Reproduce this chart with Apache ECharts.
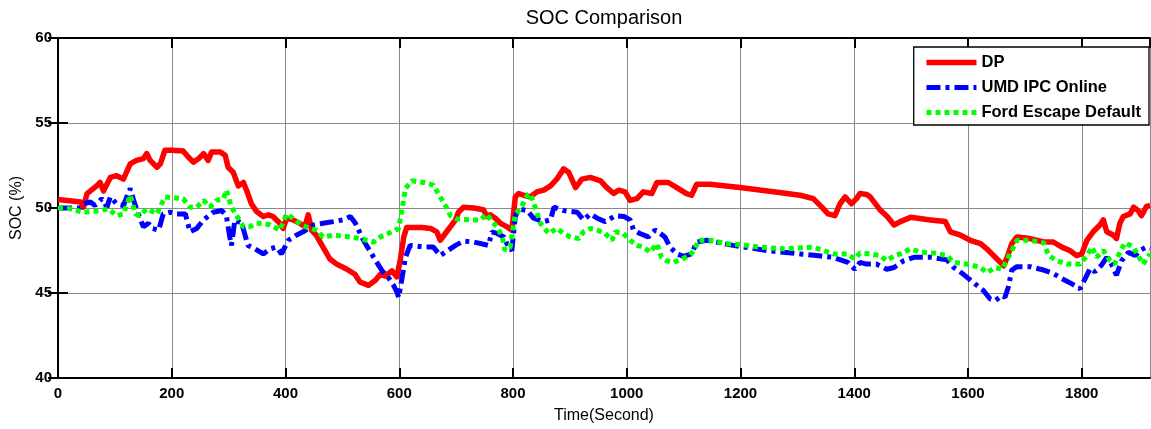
<!DOCTYPE html>
<html>
<head>
<meta charset="utf-8">
<title>SOC Comparison</title>
<script src="https://cdn.jsdelivr.net/npm/echarts@6/dist/echarts.min.js"></script>
<style>
  html, body { margin: 0; padding: 0; background: #fff; }
  #myChart { width: 1151px; height: 429px; }
</style>
</head>
<body>
<div id="myChart"></div>
<script>
// x axis ticks (seconds) and y axis ticks (%)
const xTicks = [0, 200, 400, 600, 800, 1000, 1200, 1400, 1600, 1800];
const yTicks = [40, 45, 50, 55, 60];
const seriesNames = ["DP", "UMD IPC Online", "Ford Escape Default"];

// DP
const dpTime = [0, 40, 45, 51, 68, 74, 80, 92, 103, 115, 127, 138, 150, 156, 162, 174, 180, 188, 200, 220,
  229, 238, 247, 256, 264, 270, 285, 294, 299, 308, 317, 326, 332, 340, 349, 361, 370, 378, 390, 396,
  402, 413, 425, 434, 440, 446, 454, 466, 478, 490, 508, 522, 531, 546, 549, 558, 567, 575, 587, 596,
  602, 608, 613, 640, 655, 666, 672, 681, 690, 699, 704, 713, 731, 748, 754, 760, 769, 778, 789, 798,
  804, 810, 819, 830, 842, 854, 866, 877, 889, 898, 910, 921, 936, 954, 965, 977, 986, 997, 1006, 1018,
  1029, 1044, 1053, 1073, 1088, 1105, 1114, 1123, 1146, 1199, 1258, 1305, 1328, 1343, 1354, 1366, 1375, 1384, 1395, 1404,
  1410, 1422, 1428, 1445, 1458, 1470, 1481, 1499, 1534, 1560, 1569, 1587, 1604, 1622, 1633, 1645, 1654, 1663, 1671, 1677,
  1686, 1709, 1733, 1750, 1765, 1779, 1791, 1800, 1809, 1820, 1832, 1838, 1844, 1856, 1861, 1867, 1873, 1885, 1891, 1899,
  1905, 1914, 1920];
const dpSoc = [50.5, 50.35, 50.05, 50.85, 51.3, 51.5, 51.0, 51.8, 51.9, 51.7, 52.6, 52.8, 52.9, 53.2, 52.8, 52.4, 52.6, 53.4, 53.4, 53.35,
  53.0, 52.7, 52.9, 53.2, 52.8, 53.3, 53.3, 53.1, 52.4, 52.1, 51.3, 51.5, 51.0, 50.25, 49.8, 49.5, 49.6, 49.5, 49.1, 48.8,
  49.4, 49.3, 49.1, 48.9, 49.6, 48.7, 48.4, 47.7, 47.0, 46.7, 46.4, 46.1, 45.65, 45.45, 45.4, 45.75, 46.1, 46.0, 46.3, 45.95,
  47.0, 48.3, 48.85, 48.85, 48.8, 48.6, 48.1, 48.5, 48.9, 49.3, 49.75, 50.05, 50.0, 49.9, 49.5, 49.6, 49.4, 49.1, 48.9, 48.7,
  50.65, 50.85, 50.75, 50.65, 50.95, 51.05, 51.3, 51.7, 52.3, 52.1, 51.2, 51.7, 51.8, 51.6, 51.2, 50.85, 51.05, 50.95, 50.45, 50.55,
  50.95, 50.85, 51.5, 51.5, 51.2, 50.85, 50.75, 51.4, 51.4, 51.2, 50.95, 50.75, 50.55, 50.05, 49.65, 49.55, 50.25, 50.65, 50.25, 50.55,
  50.85, 50.8, 50.65, 49.9, 49.5, 49.0, 49.2, 49.45, 49.3, 49.2, 48.6, 48.4, 48.1, 47.9, 47.6, 47.2, 46.9, 46.6, 47.3, 47.9,
  48.3, 48.2, 48.0, 48.0, 47.7, 47.5, 47.2, 47.3, 48.1, 48.6, 49.0, 49.3, 48.6, 48.4, 48.2, 49.1, 49.5, 49.65, 50.05, 49.85,
  49.55, 50.1, 50.15];

// UMD IPC Online
const umdTime = [0, 39, 45, 57, 65, 77, 86, 92, 103, 115, 127, 133, 141, 150, 159, 165, 177, 185, 197, 209,
  224, 232, 244, 256, 273, 288, 296, 302, 305, 311, 323, 334, 346, 361, 373, 384, 393, 405, 419, 431,
  449, 466, 484, 501, 514, 523, 537, 555, 570, 581, 590, 596, 599, 605, 611, 619, 643, 660, 672, 681,
  699, 713, 731, 757, 763, 772, 784, 792, 798, 804, 810, 825, 836, 854, 866, 872, 889, 913, 924, 936,
  948, 962, 980, 995, 1006, 1012, 1023, 1038, 1050, 1059, 1067, 1076, 1088, 1100, 1114, 1123, 1141, 1187, 1246, 1305,
  1334, 1363, 1389, 1401, 1410, 1422, 1439, 1457, 1470, 1487, 1505, 1534, 1563, 1575, 1592, 1610, 1627, 1639, 1648, 1660,
  1665, 1671, 1677, 1686, 1709, 1733, 1750, 1765, 1782, 1797, 1806, 1815, 1823, 1835, 1844, 1853, 1861, 1870, 1882, 1894,
  1902, 1914, 1920];
const umdSoc = [50.0, 50.0, 50.25, 50.35, 50.15, 50.55, 50.05, 50.65, 50.25, 50.15, 51.15, 50.45, 49.65, 48.9, 49.1, 48.8, 48.7, 49.65, 49.75, 49.65,
  49.65, 48.6, 48.8, 49.3, 49.75, 49.85, 49.55, 48.3, 47.8, 49.3, 49.1, 47.8, 47.6, 47.3, 47.6, 47.7, 47.3, 48.1, 48.4, 48.6,
  49.0, 49.1, 49.2, 49.3, 49.5, 49.1, 48.1, 47.1, 46.3, 45.9, 45.45, 45.05, 44.75, 45.9, 47.1, 47.8, 47.7, 47.7, 47.2, 47.4,
  47.8, 48.05, 48.0, 47.8, 48.6, 48.5, 48.3, 47.7, 47.5, 49.5, 49.95, 49.85, 49.4, 49.2, 49.3, 50.05, 49.85, 49.75, 49.3, 49.65,
  49.4, 49.2, 49.55, 49.5, 49.3, 48.7, 48.5, 48.3, 48.7, 48.5, 48.3, 47.7, 47.3, 47.15, 47.3, 48.0, 48.1, 47.8, 47.5, 47.3,
  47.2, 47.1, 46.8, 46.4, 46.8, 46.7, 46.7, 46.4, 46.5, 46.9, 47.1, 47.1, 46.95, 46.5, 46.1, 45.6, 45.15, 44.65, 44.55, 44.85,
  44.75, 45.35, 46.35, 46.55, 46.55, 46.35, 46.15, 45.85, 45.55, 45.25, 45.85, 46.45, 46.25, 46.65, 47.1, 46.65, 46.05, 46.9, 47.4, 47.2,
  47.5, 47.7, 47.6];

// Ford Escape Default
const fordTime = [0, 22, 45, 74, 89, 103, 115, 127, 136, 144, 156, 174, 188, 203, 220, 232, 244, 256, 267, 279,
  291, 296, 305, 314, 326, 337, 349, 361, 373, 390, 402, 413, 428, 443, 454, 466, 484, 501, 513, 531,
  543, 555, 567, 587, 599, 605, 611, 622, 643, 660, 672, 681, 690, 701, 725, 743, 754, 763, 772, 781,
  786, 795, 804, 813, 825, 830, 839, 848, 863, 877, 889, 901, 916, 924, 936, 948, 962, 974, 980, 994,
  1006, 1018, 1029, 1041, 1053, 1061, 1070, 1082, 1097, 1111, 1120, 1126, 1146, 1176, 1199, 1234, 1275, 1328, 1363, 1387,
  1401, 1410, 1428, 1445, 1457, 1471, 1481, 1499, 1516, 1540, 1563, 1575, 1598, 1622, 1633, 1648, 1660, 1668, 1677, 1686,
  1709, 1733, 1742, 1756, 1774, 1797, 1809, 1818, 1826, 1838, 1850, 1858, 1867, 1876, 1891, 1899, 1908, 1920];
const fordSoc = [50.0, 49.95, 49.75, 49.85, 49.95, 49.55, 49.65, 50.75, 49.65, 49.55, 49.95, 49.65, 50.65, 50.6, 50.55, 50.05, 50.05, 50.45, 50.05, 50.45,
  50.55, 51.05, 50.05, 49.55, 48.9, 48.9, 49.1, 49.1, 49.0, 48.7, 49.65, 49.4, 49.0, 48.8, 48.7, 48.3, 48.4, 48.35, 48.3, 48.2,
  48.1, 48.0, 48.3, 48.6, 48.8, 49.95, 51.15, 51.6, 51.5, 51.35, 50.65, 50.15, 49.55, 49.35, 49.3, 49.3, 49.65, 49.2, 48.9, 48.3,
  47.5, 47.7, 49.65, 49.95, 50.75, 50.85, 50.05, 49.1, 48.5, 48.8, 48.5, 48.3, 48.2, 48.6, 48.8, 48.7, 48.5, 48.1, 48.6, 48.5,
  48.1, 47.8, 47.7, 47.4, 47.9, 47.1, 46.9, 46.8, 47.0, 47.2, 47.6, 48.1, 48.1, 47.9, 47.85, 47.7, 47.6, 47.7, 47.3, 47.3,
  47.0, 47.35, 47.3, 47.2, 46.9, 47.2, 47.3, 47.6, 47.4, 47.35, 47.2, 46.8, 46.7, 46.5, 46.2, 46.5, 46.4, 46.9, 47.5, 48.1,
  48.1, 47.95, 47.2, 46.9, 46.7, 46.7, 47.2, 47.7, 47.1, 47.5, 46.9, 46.7, 47.4, 47.95, 47.7, 47.2, 46.7, 47.3];

function zip(ts, vs) {
  return ts.map((t, i) => [t, vs[i]]);
}

let myChart = echarts.init(document.getElementById("myChart"));
const font = "'Liberation Sans', Arial, Helvetica, sans-serif";
const xMax = 1920;

// line styles, shared by series and legend
const dpLine = { color: "#ff0000", width: 5.5, type: "solid", join: "round" };
const umdLine = { color: "#0000ff", width: 5, type: [14, 5, 4, 5], cap: "butt" };
const fordLine = { color: "#00ff00", width: 5, type: [5, 4], cap: "butt" };

// matlab style: inside ticks, thick frame
const frameLine = { show: true, lineStyle: { color: "#000", width: 2 } };
const inTick = { show: true, inside: true, length: 10, lineStyle: { color: "#000", width: 2 } };
const gridLine = { show: true, lineStyle: { color: "#8a8a8a", width: 1, type: "solid" } };

let option = {
  backgroundColor: "#fff",
  animation: false,
  title: {
    text: "SOC Comparison",
    left: 599,
    top: 3,
    textAlign: "center",
    textStyle: { color: "#000", fontSize: 20, fontWeight: "normal", fontFamily: font }
  },
  legend: {
    data: [
      { name: seriesNames[0], lineStyle: dpLine },
      { name: seriesNames[1], lineStyle: umdLine },
      { name: seriesNames[2], lineStyle: fordLine }
    ],
    orient: "vertical",
    right: 2,
    top: 47,
    padding: [7, 8, 4, 10],
    itemWidth: 50,
    itemHeight: 14,
    itemGap: 8,
    itemStyle: { opacity: 0 }, // hide the circle symbol, keep the line
    backgroundColor: "#fff",
    borderColor: "#000",
    borderWidth: 1.3,
    borderRadius: 0,
    selectedMode: false,
    textStyle: { color: "#000", fontSize: 16.5, fontWeight: "bold", fontFamily: font }
  },
  grid: {
    left: 58,
    right: 1,
    top: 38,
    bottom: 51,
    outerBoundsMode: "none"
  },
  xAxis: [
    {
      type: "value",
      position: "bottom",
      min: 0,
      max: xMax,
      interval: 200,
      name: "Time(Second)",
      nameLocation: "middle",
      nameGap: 30,
      nameTextStyle: { color: "#000", fontSize: 16, fontFamily: font },
      axisLine: frameLine,
      axisTick: inTick,
      splitLine: gridLine,
      axisLabel: {
        color: "#000",
        fontSize: 15,
        fontWeight: "bold",
        fontFamily: font,
        margin: 8,
        showMaxLabel: false,
        formatter: v => (xTicks.indexOf(v) >= 0 ? String(v) : "")
      }
    },
    {
      type: "value",
      position: "top",
      min: 0,
      max: xMax,
      interval: 200,
      axisLine: frameLine,
      axisTick: inTick,
      splitLine: { show: false },
      axisLabel: { show: false }
    }
  ],
  yAxis: [
    {
      type: "value",
      position: "left",
      min: yTicks[0],
      max: yTicks[yTicks.length - 1],
      interval: 5,
      name: "SOC (%)",
      nameLocation: "middle",
      nameGap: 32,
      nameTextStyle: { color: "#000", fontSize: 16, fontFamily: font },
      axisLine: frameLine,
      axisTick: inTick,
      splitLine: gridLine,
      axisLabel: { color: "#000", fontSize: 15, fontWeight: "bold", fontFamily: font, margin: 6 }
    },
    {
      type: "value",
      position: "right",
      min: yTicks[0],
      max: yTicks[yTicks.length - 1],
      interval: 5,
      axisLine: frameLine,
      axisTick: inTick,
      splitLine: { show: false },
      axisLabel: { show: false }
    }
  ],
  series: [
    {
      name: seriesNames[0],
      type: "line",
      showSymbol: false,
      symbol: "none",
      color: dpLine.color,
      lineStyle: dpLine,
      data: zip(dpTime, dpSoc)
    },
    {
      name: seriesNames[1],
      type: "line",
      showSymbol: false,
      symbol: "none",
      color: umdLine.color,
      lineStyle: umdLine,
      data: zip(umdTime, umdSoc)
    },
    {
      name: seriesNames[2],
      type: "line",
      showSymbol: false,
      symbol: "none",
      color: fordLine.color,
      lineStyle: fordLine,
      data: zip(fordTime, fordSoc)
    }
  ]
};

myChart.setOption(option, true);
</script>
</body>
</html>
